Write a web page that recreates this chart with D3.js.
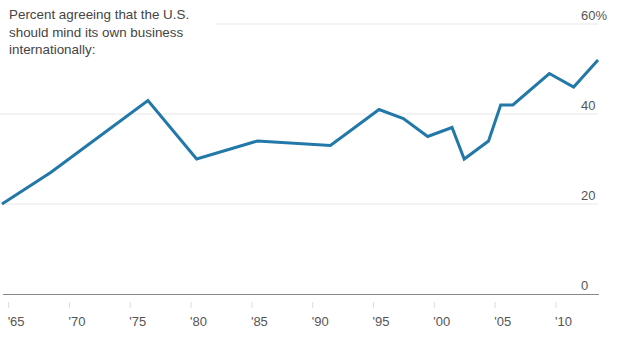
<!DOCTYPE html>
<html>
<head>
<meta charset="utf-8">
<script src="https://cdn.jsdelivr.net/npm/d3@7"></script>
<style>
  html, body { margin: 0; padding: 0; background: #fff; }
  svg { display: block; font-family: "Liberation Sans", Arial, sans-serif; }
</style>
</head>
<body>
<svg id="chart" width="620" height="343"></svg>
<script>
const years  = [1964, 1968, 1972, 1976, 1980, 1985, 1991, 1993, 1995, 1997, 1999, 2001, 2002, 2004, 2005, 2006, 2009, 2011, 2013];
const values = [20, 27, 35, 43, 30, 34, 33, 37, 41, 39, 35, 37, 30, 34, 42, 42, 49, 46, 52];
const yTicks = [0, 20, 40, 60];
const xTickYears = [1965, 1970, 1975, 1980, 1985, 1990, 1995, 2000, 2005, 2010];
const xTickLabels = ["'65", "'70", "'75", "'80", "'85", "'90", "'95", "'00", "'05", "'10"];
const titleLines = ["Percent agreeing that the U.S.", "should mind its own business", "internationally:"];

const svg = d3.select("#chart");

const x = d3.scaleTime()
  .domain([new Date(1964, 6, 1), new Date(2013, 6, 1)])
  .range([2, 598]);
const y = d3.scaleLinear().domain([0, 60]).range([294, 24]);

const data = years.map((yr, i) => ({ date: new Date(yr, 6, 1), v: values[i] }));

// gridlines
svg.append("g").selectAll("line")
  .data(yTicks.filter(d => d !== 0))
  .join("line")
  .attr("x1", 0).attr("x2", 598)
  .attr("y1", d => y(d)).attr("y2", d => y(d))
  .attr("stroke", "#e8e8e8").attr("stroke-width", 1);

// y labels
svg.append("g").selectAll("text")
  .data(yTicks)
  .join("text")
  .attr("x", 581)
  .attr("y", d => y(d) - 4)
  .attr("font-size", 13)
  .attr("fill", "#555")
  .text(d => d === 60 ? "60%" : d);

// baseline
svg.append("line")
  .attr("x1", 3).attr("x2", 599)
  .attr("y1", y(0) + 0.5).attr("y2", y(0) + 0.5)
  .attr("stroke", "#888").attr("stroke-width", 1);

// x axis
const xAxis = d3.axisBottom(x)
  .tickValues(xTickYears.map(yr => new Date(yr, 0, 1)))
  .tickSize(6)
  .tickFormat((d, i) => xTickLabels[i]);

const gx = svg.append("g")
  .attr("transform", "translate(0,302)")
  .call(xAxis);
gx.select(".domain").remove();
gx.selectAll(".tick line").attr("stroke", "#ddd");
gx.selectAll(".tick text")
  .attr("text-anchor", "start")
  .attr("x", -1)
  .attr("y", 24)
  .attr("dy", 0)
  .attr("font-size", 13)
  .attr("font-family", "Liberation Sans, Arial, sans-serif")
  .attr("fill", "#555");

// line
const line = d3.line().x(d => x(d.date)).y(d => y(d.v));
svg.append("path")
  .datum(data)
  .attr("d", line)
  .attr("fill", "none")
  .attr("stroke", "#2278a8")
  .attr("stroke-width", 3)
  .attr("stroke-linejoin", "miter");

// title with white background
svg.append("rect").attr("x", 0).attr("y", 0).attr("width", 216).attr("height", 62).attr("fill", "#fff");
svg.append("text")
  .attr("x", 9).attr("y", 19)
  .attr("font-size", 13.4)
  .attr("fill", "#444")
  .selectAll("tspan")
  .data(titleLines)
  .join("tspan")
  .attr("x", 9)
  .attr("dy", (d, i) => i === 0 ? 0 : 17.5)
  .text(d => d);
</script>
</body>
</html>
